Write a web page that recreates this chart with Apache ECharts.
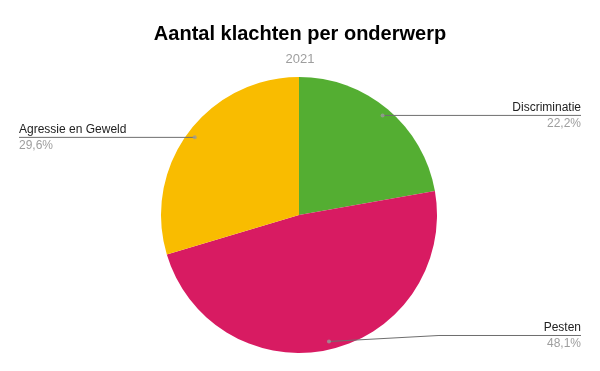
<!DOCTYPE html>
<html>
<head>
<meta charset="utf-8">
<script src="https://cdn.jsdelivr.net/npm/echarts@6/dist/echarts.min.js"></script>
<style>html,body{margin:0;padding:0;background:#fff}#c{width:600px;height:371px}</style>
</head>
<body>
<div id="c"></div>
<script>
const categories = ['Discriminatie', 'Pesten', 'Agressie en Geweld'];
const percentages = [22.2, 48.1, 29.6];
const colors = ['#54AE32', '#D81B62', '#F9BC00'];
const titleText = 'Aantal klachten per onderwerp';
const subtitleText = '2021';

const FONT = 'Liberation Sans, Arial, sans-serif';
const total = percentages.reduce((a, b) => a + b, 0);
const mids = [];
let acc = 0;
for (const v of percentages) { mids.push((acc + v / 2) / total * 100); acc += v; }

const fmt = v => v.toFixed(1).replace('.', ',') + '%';
const pieData = categories.map((c, i) => ({ name: c, value: percentages[i], itemStyle: { color: colors[i] } }));
const labelData = categories.map((c, i) => ({ name: c, value: percentages[i] }));

const chart = echarts.init(document.getElementById('c'), null, { renderer: 'canvas' });
chart.setOption({
  animation: false,
  backgroundColor: '#fff',
  title: {
    text: titleText,
    subtext: subtitleText,
    left: 'center',
    top: 19,
    itemGap: 9,
    textStyle: { fontFamily: FONT, fontSize: 20, fontWeight: 'bold', color: '#000' },
    subtextStyle: { fontFamily: FONT, fontSize: 13, color: '#9e9e9e' }
  },
  polar: { center: [299, 215], radius: 138 },
  angleAxis: { type: 'value', min: 0, max: 100, startAngle: 90, clockwise: true, show: false },
  radiusAxis: { type: 'value', min: 0, max: 138, show: false },
  series: [
    {
      type: 'pie',
      center: [299, 215],
      radius: 138,
      startAngle: 90,
      clockwise: true,
      silent: true,
      label: { show: false },
      labelLine: { show: false },
      data: pieData
    },
    {
      type: 'pie',
      center: [299, 215],
      radius: 130,
      startAngle: 90,
      clockwise: true,
      silent: true,
      z: 3,
      itemStyle: { color: 'rgba(0,0,0,0)' },
      label: {
        show: true,
        position: 'outside',
        alignTo: 'edge',
        edgeDistance: 19,
        formatter: p => '{n|' + p.name + '}\n{p|' + fmt(p.value) + '}',
        rich: {
          n: { fontFamily: FONT, fontSize: 12, color: '#222', lineHeight: 16 },
          p: { fontFamily: FONT, fontSize: 12, color: '#9e9e9e', lineHeight: 16 }
        }
      },
      labelLine: { show: true, length: 0, length2: 10, lineStyle: { color: '#6e6e6e', width: 1 } },
      labelLayout: function (params) {
        const pts = params.labelLinePoints;
        const r = params.labelRect;
        const p0 = pts[0];
        const onRight = p0[0] > 299;
        const farX = onRight ? r.x + r.width : r.x;
        if (params.dataIndex === 1) {
          const ny = p0[1] - 6;
          return {
            dy: -6,
            labelLinePoints: [p0, [p0[0] + 110, ny], [farX, ny]]
          };
        }
        return {
          labelLinePoints: [p0, [p0[0], p0[1]], [farX, p0[1]]]
        };
      },
      data: labelData
    },
    {
      type: 'scatter',
      coordinateSystem: 'polar',
      silent: true,
      z: 4,
      symbol: 'circle',
      symbolSize: 4,
      itemStyle: { color: '#9a9a9a' },
      data: mids.map(m => [130, m])
    }
  ]
});
</script>
</body>
</html>
